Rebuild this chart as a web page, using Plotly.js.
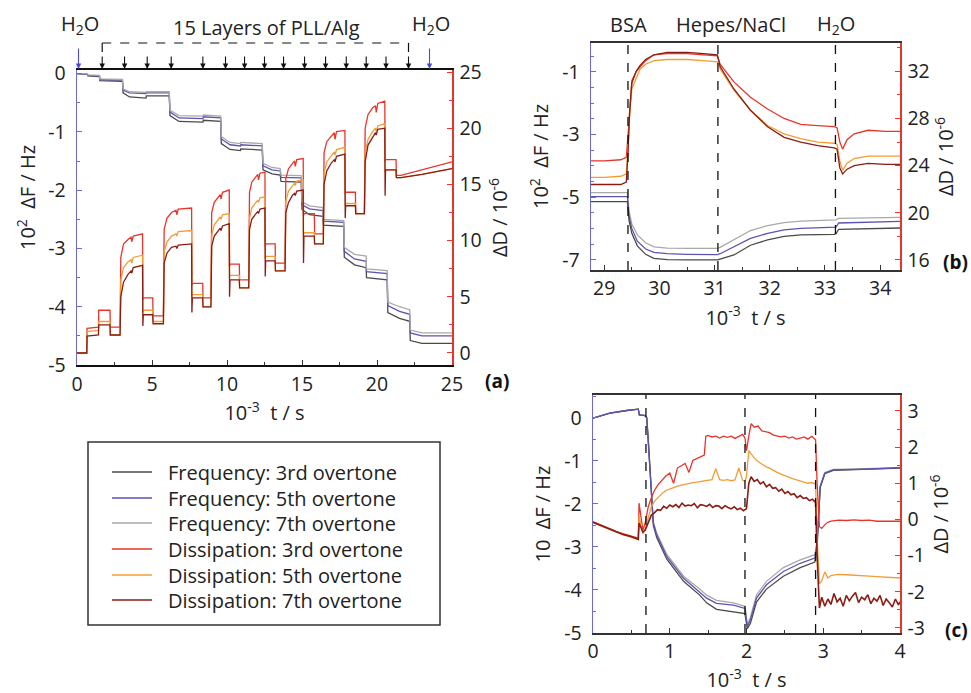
<!DOCTYPE html>
<html>
<head>
<meta charset="utf-8">
<script src="https://cdn.plot.ly/plotly-3.0.1.min.js"></script>
<style>html,body{margin:0;padding:0;background:#fff;}#chart{width:971px;height:693px;}</style>
</head>
<body>
<div id="chart"></div>
<script>
// ---------- Panel (a): 15 layers PLL/Alg ----------
const tA_F = [0, 0.7, 0.72, 1.5, 1.52, 3.03, 3.07, 3.5, 4.6, 4.62, 6.15, 6.2, 6.8, 8.4, 8.42, 9.58, 9.62, 10.2, 10.9, 10.92, 12.35, 12.4, 13.0, 13.55, 13.6, 14.95, 15.0, 15.5, 16.4, 16.42, 17.78, 17.82, 18.5, 19.28, 19.3, 20.68, 20.72, 21.5, 22.18, 22.22, 23.0, 25];
const fA3 = [0.0, -0.01, -0.04, -0.05, -0.12, -0.13, -0.33, -0.40, -0.42, -0.38, -0.38, -0.72, -0.82, -0.83, -0.80, -0.82, -1.20, -1.30, -1.32, -1.29, -1.31, -1.65, -1.72, -1.74, -1.85, -1.86, -2.33, -2.42, -2.45, -2.60, -2.62, -3.15, -3.28, -3.33, -3.50, -3.54, -4.10, -4.20, -4.25, -4.58, -4.63, -4.63];
const fA5 = [0.0, -0.01, -0.03, -0.04, -0.10, -0.11, -0.28, -0.33, -0.34, -0.33, -0.33, -0.66, -0.76, -0.77, -0.74, -0.76, -1.12, -1.22, -1.24, -1.22, -1.24, -1.58, -1.65, -1.67, -1.78, -1.79, -2.25, -2.32, -2.35, -2.53, -2.55, -3.05, -3.18, -3.22, -3.40, -3.43, -3.98, -4.08, -4.13, -4.45, -4.50, -4.50];
const fA7 = [0.0, 0.0, -0.02, -0.03, -0.09, -0.10, -0.26, -0.31, -0.32, -0.31, -0.31, -0.63, -0.72, -0.73, -0.71, -0.73, -1.08, -1.18, -1.20, -1.18, -1.20, -1.54, -1.61, -1.63, -1.74, -1.75, -2.20, -2.27, -2.30, -2.50, -2.52, -2.98, -3.10, -3.13, -3.35, -3.38, -3.92, -4.00, -4.05, -4.40, -4.45, -4.45];

const tA_D = [0, 0.65, 0.67, 1.43, 1.45, 2.2, 2.22,
  2.87, 2.92, 3.1, 3.4, 3.6, 3.65, 3.75, 4.37, 4.39, 4.42, 5.05, 5.07,
  5.76, 5.81, 6.0, 6.3, 6.6, 6.65, 6.75, 7.64, 7.66, 7.69, 8.38, 8.4,
  8.93, 8.98, 9.15, 9.4, 9.55, 9.6, 9.7, 10.15, 10.17, 10.2, 10.82, 10.84,
  11.45, 11.5, 11.65, 11.9, 12.05, 12.1, 12.2, 12.53, 12.55, 12.58, 13.21, 13.23,
  13.87, 13.92, 14.1, 14.35, 14.5, 14.55, 14.65, 15.08, 15.1, 15.13, 15.82, 15.84,
  16.42, 16.47, 16.65, 16.95, 17.15, 17.2, 17.3, 17.86, 17.88, 17.91, 18.56, 18.58,
  19.16, 19.21, 19.4, 19.7, 19.9, 19.95, 20.05, 20.52, 20.54, 20.57, 21.27, 21.29,
  21.6, 23.0, 25];
const dA3 = [0.0, 0.0, 2.2, 2.3, 3.8, 3.8, 2.3,
  2.3, 8.5, 9.7, 10.1, 10.3, 9.9, 10.4, 10.6, 4.7, 4.9, 4.9, 3.3,
  3.3, 11.0, 12.0, 12.5, 12.7, 12.3, 12.8, 12.9, 6.0, 6.2, 6.2, 4.9,
  4.9, 12.5, 13.4, 13.9, 14.1, 13.7, 14.3, 14.5, 7.7, 7.9, 7.9, 6.5,
  6.5, 14.3, 15.2, 15.7, 15.9, 15.4, 16.0, 16.1, 9.5, 9.7, 9.7, 8.0,
  8.0, 15.5, 16.4, 16.9, 17.1, 16.6, 17.2, 17.3, 12.2, 12.4, 12.4, 10.6,
  10.6, 17.8, 18.8, 19.3, 19.6, 19.0, 19.7, 19.8, 14.1, 14.3, 14.3, 12.4,
  12.4, 20.0, 21.2, 21.8, 22.0, 21.4, 22.2, 22.4, 17.0, 17.2, 17.2, 15.8,
  15.8, 16.3, 17.0];
const dA5 = [0.0, 0.0, 1.9, 2.0, 2.8, 2.8, 1.6,
  1.6, 6.5, 7.6, 8.1, 8.3, 8.0, 8.5, 8.7, 3.6, 3.8, 3.8, 2.8,
  2.8, 9.0, 9.9, 10.4, 10.6, 10.4, 10.8, 10.9, 5.0, 5.2, 5.2, 4.1,
  4.1, 10.5, 11.4, 11.9, 12.1, 11.9, 12.3, 12.4, 6.7, 6.9, 6.9, 5.8,
  5.8, 12.0, 12.9, 13.4, 13.6, 13.4, 13.8, 13.9, 8.4, 8.6, 8.6, 7.3,
  7.3, 13.5, 14.4, 14.9, 15.1, 14.9, 15.3, 15.4, 10.5, 10.7, 10.7, 9.7,
  9.7, 16.0, 17.0, 17.6, 17.9, 17.6, 18.1, 18.3, 13.1, 13.3, 13.3, 12.4,
  12.4, 17.8, 19.0, 19.7, 20.0, 19.7, 20.2, 20.4, 16.1, 16.3, 16.3, 15.6,
  15.6, 15.9, 16.4];
const dA7 = [0.0, 0.0, 1.5, 1.6, 2.5, 2.5, 1.6,
  1.6, 5.0, 6.3, 7.0, 7.3, 7.1, 7.6, 7.8, 2.4, 3.4, 3.4, 2.6,
  2.6, 8.0, 8.9, 9.4, 9.5, 9.3, 9.6, 9.7, 3.6, 4.9, 4.9, 4.1,
  4.1, 9.5, 10.4, 10.9, 11.1, 10.9, 11.3, 11.5, 5.0, 6.5, 6.5, 5.8,
  5.8, 11.0, 11.9, 12.4, 12.6, 12.4, 12.8, 12.9, 6.8, 8.2, 8.2, 7.3,
  7.3, 12.5, 13.4, 14.0, 14.2, 14.0, 14.4, 14.5, 8.0, 10.4, 10.4, 9.7,
  9.7, 15.0, 16.2, 16.9, 17.2, 17.0, 17.5, 17.7, 12.0, 13.1, 13.1, 12.4,
  12.4, 17.0, 18.5, 19.2, 19.6, 19.4, 19.9, 20.0, 14.0, 16.3, 16.3, 15.6,
  15.6, 15.9, 16.4];

const layerArrowsT = [1.68, 3.17, 4.68, 6.28, 8.39, 9.9, 11.17, 12.5, 13.77, 15.17, 16.57, 17.95, 19.28, 20.6, 22.1];
const waterArrowsT = [0.1, 23.5];
const topLabelT = [0.23, 12.65, 23.63];
const topLabels = ['H<sub>2</sub>O', '15 Layers of PLL/Alg', 'H<sub>2</sub>O'];

// ---------- Panel (b): BSA adsorption ----------
const tB_D = [28.76, 29.0, 29.3, 29.4, 29.43, 29.46, 29.5, 29.58, 29.65, 29.75, 29.9, 30.14, 30.5, 30.8, 31.05, 31.1, 31.35, 31.65, 31.96, 32.26, 32.56, 32.87, 33.17, 33.22, 33.27, 33.32, 33.4, 33.53, 33.78, 34.1, 34.36];
const dB3 = [24.4, 24.4, 24.5, 24.7, 26.5, 29.0, 31.2, 32.0, 32.4, 32.9, 33.4, 33.5, 33.5, 33.4, 33.3, 32.6, 31.1, 29.8, 28.8, 28.0, 27.5, 27.4, 27.3, 27.2, 26.0, 25.4, 26.2, 26.7, 27.0, 26.9, 26.9];
const dB5 = [23.0, 23.0, 23.1, 23.3, 25.5, 28.3, 30.5, 31.5, 32.2, 32.6, 32.9, 33.0, 33.0, 32.9, 32.8, 32.2, 30.4, 28.7, 27.4, 26.7, 26.3, 26.0, 25.9, 25.8, 24.4, 23.6, 24.2, 24.6, 24.8, 24.8, 24.8];
const dB7 = [22.4, 22.4, 22.4, 22.6, 25.0, 28.5, 31.0, 32.0, 32.5, 33.0, 33.4, 33.6, 33.6, 33.5, 33.4, 32.4, 30.5, 28.7, 27.3, 26.4, 26.0, 25.7, 25.5, 25.4, 23.8, 23.3, 23.7, 24.0, 24.2, 24.1, 24.1];
const tB_F = [28.76, 29.0, 29.3, 29.42, 29.45, 29.5, 29.6, 29.75, 29.9, 30.14, 30.5, 31.05, 31.1, 31.35, 31.65, 31.96, 32.26, 32.56, 33.17, 33.2, 33.25, 33.78, 34.36];
const fB3 = [-5.14, -5.14, -5.14, -5.14, -5.75, -6.15, -6.55, -6.82, -6.95, -6.99, -7.0, -7.0, -6.97, -6.84, -6.53, -6.36, -6.25, -6.2, -6.18, -6.16, -6.02, -6.0, -5.98];
const fB5 = [-4.98, -4.98, -4.98, -4.98, -5.6, -6.0, -6.4, -6.65, -6.76, -6.8, -6.82, -6.83, -6.8, -6.57, -6.31, -6.15, -6.04, -5.99, -5.97, -5.95, -5.82, -5.8, -5.77];
const fB7 = [-4.85, -4.85, -4.85, -4.85, -5.45, -5.85, -6.2, -6.45, -6.58, -6.62, -6.63, -6.63, -6.6, -6.35, -6.06, -5.9, -5.81, -5.76, -5.74, -5.72, -5.67, -5.65, -5.64];
const bEventsT = [29.43, 31.06, 33.19];
const bEventLabels = ['BSA', 'Hepes/NaCl', 'H<sub>2</sub>O'];
const bLabelT = [29.44, 31.29, 33.2];

// ---------- Panel (c) ----------
const tC_F = [0, 0.22, 0.44, 0.59, 0.604, 0.68, 0.70, 0.72, 0.786, 0.83, 0.96, 1.18, 1.39, 1.48, 1.61, 1.83, 1.98, 2.01, 2.05, 2.13, 2.26, 2.48, 2.70, 2.89, 2.92, 2.96, 3.02, 3.13, 3.57, 4.0];
const fC3 = [-0.01, 0.11, 0.17, 0.2, 0.07, 0.05, 0.0, -0.51, -2.5, -2.78, -3.28, -3.8, -4.12, -4.3, -4.45, -4.5, -4.55, -4.9, -4.78, -4.28, -3.98, -3.68, -3.48, -3.35, -3.0, -1.62, -1.3, -1.22, -1.2, -1.17];
const fC5 = [-0.01, 0.11, 0.17, 0.2, 0.07, 0.05, 0.0, -0.51, -2.45, -2.72, -3.22, -3.73, -4.04, -4.19, -4.31, -4.35, -4.43, -4.85, -4.70, -4.19, -3.88, -3.57, -3.38, -3.26, -2.91, -1.6, -1.29, -1.21, -1.19, -1.16];
const fC7 = [-0.01, 0.11, 0.17, 0.2, 0.07, 0.05, 0.0, -0.5, -2.42, -2.68, -3.17, -3.68, -3.98, -4.12, -4.24, -4.3, -4.38, -4.8, -4.64, -4.12, -3.8, -3.48, -3.3, -3.18, -2.85, -1.58, -1.27, -1.2, -1.18, -1.15];
const tC_D = [0, 0.1, 0.2, 0.3, 0.4, 0.5, 0.59,
  0.6, 0.62, 0.65, 0.68, 0.70,
  0.72, 0.76, 0.8, 0.85, 0.9, 0.95, 1.0, 1.05, 1.1, 1.15, 1.2, 1.25, 1.3, 1.35, 1.4, 1.45, 1.47, 1.5, 1.55, 1.6, 1.65, 1.7, 1.75, 1.8, 1.85, 1.9, 1.95, 1.98,
  2.0, 2.03, 2.06, 2.1, 2.15, 2.2, 2.25, 2.3, 2.35, 2.4, 2.45, 2.5, 2.55, 2.6, 2.65, 2.7, 2.75, 2.8, 2.85, 2.9,
  2.92, 2.95, 2.98, 3.02, 3.06, 3.1, 3.15, 3.2, 3.3, 3.4, 3.5, 3.6, 3.7, 3.8, 3.9, 4.0];
const dC3 = [-0.06, -0.15, -0.25, -0.33, -0.40, -0.46, -0.52,
  0.45, 0.1, -0.3, -0.1, 0.1,
  0.35, 0.6, 0.8, 0.97, 1.1, 1.2, 1.28, 1.0, 1.42, 1.48, 1.55, 1.3, 1.63, 1.68, 1.72, 1.78, 2.3, 2.32, 2.28, 2.3, 2.25, 2.3, 2.27, 2.3, 2.24, 2.3, 2.35, 2.25,
  1.9, 2.3, 2.65, 2.55, 2.58, 2.45, 2.42, 2.4, 2.33, 2.3, 2.28, 2.3, 2.25, 2.28, 2.22, 2.25, 2.28, 2.22, 2.3, 2.2,
  1.0, -0.2, -0.25, -0.15, -0.08, -0.05, -0.03, -0.02, -0.03, -0.01, -0.03, -0.02, -0.05, -0.05, -0.04, -0.05];
const dC5 = [-0.08, -0.17, -0.27, -0.35, -0.42, -0.49, -0.56,
  0.1, -0.1, -0.4, -0.25, -0.1,
  0.1, 0.35, 0.5, 0.62, 0.72, 0.8, 0.85, 0.88, 0.92, 0.95, 0.97, 1.0, 1.02, 1.03, 1.05, 1.06, 1.08, 1.08, 1.1, 1.4, 1.1, 1.08, 1.1, 1.07, 1.09, 1.42, 1.08, 1.05,
  1.2, 1.9, 1.8, 1.7, 1.6, 1.52, 1.46, 1.42, 1.35, 1.3, 1.25, 1.2, 1.17, 1.13, 1.1, 1.07, 1.05, 1.0, 1.02, 0.98,
  -0.5, -1.78, -1.7, -1.45, -1.62, -1.55, -1.53, -1.52, -1.53, -1.55, -1.56, -1.57, -1.58, -1.6, -1.6, -1.62];
const tC_D7 = [0, 0.1, 0.2, 0.3, 0.4, 0.5, 0.59,
  0.6, 0.62, 0.65, 0.68, 0.70,
  0.72, 0.76, 0.80, 0.84, 0.88, 0.92, 0.96, 1.00, 1.04, 1.08, 1.12, 1.16, 1.20, 1.24, 1.28, 1.32, 1.36, 1.40, 1.44, 1.48, 1.52, 1.56, 1.60, 1.64, 1.68, 1.72, 1.76, 1.80, 1.84, 1.88, 1.92, 1.96,
  2.0, 2.03, 2.06, 2.10, 2.14, 2.18, 2.22, 2.26, 2.30, 2.34, 2.38, 2.42, 2.46, 2.50, 2.54, 2.58, 2.62, 2.66, 2.70, 2.74, 2.78, 2.82, 2.86, 2.90,
  2.92, 2.95, 2.98, 3.02, 3.06, 3.10, 3.14, 3.18, 3.22, 3.26, 3.30, 3.34, 3.38, 3.42, 3.46, 3.50, 3.54, 3.58, 3.62, 3.66, 3.70, 3.74, 3.78, 3.82, 3.86, 3.90, 3.94, 3.98, 4.0];
const dC7 = [-0.08, -0.17, -0.26, -0.34, -0.42, -0.48, -0.55,
  -0.1, -0.2, -0.35, -0.3, -0.2,
  -0.05, 0.12, 0.18, 0.27, 0.25, 0.36, 0.31, 0.40, 0.35, 0.41, 0.33, 0.45, 0.37, 0.40, 0.38, 0.44, 0.32, 0.41, 0.39, 0.36, 0.42, 0.33, 0.38, 0.37, 0.30, 0.38, 0.33, 0.29, 0.35, 0.27, 0.31, 0.24,
  0.3, 1.0, 1.18, 1.05, 1.1, 0.98, 1.04, 0.9, 0.97, 0.86, 0.88, 0.78, 0.84, 0.72, 0.77, 0.68, 0.71, 0.6, 0.66, 0.58, 0.6, 0.52, 0.56, 0.47,
  -1.0, -2.45, -2.15, -2.4, -2.2, -2.35, -2.05, -2.28, -2.18, -2.4, -2.1, -2.25, -2.12, -2.02, -2.3, -2.15, -2.22, -2.08, -2.33, -2.18, -2.26, -2.1, -2.38, -2.2, -2.3, -2.42, -2.2, -2.36, -2.28];
const cEventsT = [0.69, 1.98, 2.9];

const seriesNames = ['Frequency: 3rd overtone', 'Frequency: 5th overtone', 'Frequency: 7th overtone',
  'Dissipation: 3rd overtone', 'Dissipation: 5th overtone', 'Dissipation: 7th overtone'];

// ---------- styling ----------
const C = {f3: '#4a4a4a', f5: '#5b55b0', f7: '#a9a9a9', d3: '#e8352a', d5: '#f39c34', d7: '#8b1c14'};
const seriesColors = [C.f3, C.f5, C.f7, C.d3, C.d5, C.d7];
const BLUE = '#6b6bd0', RED = '#e8352a';
const FONT = 'Open Sans, Arial, sans-serif';
const W = 971, H = 693;
const px = v => v / W;
const py = v => 1 - v / H;

function tr(x, y, color, xa, ya, name, width) {
  return {x: x, y: y, type: 'scatter', mode: 'lines', name: name, showlegend: false,
    xaxis: xa, yaxis: ya, line: {color: color, width: width || 1.3}, hoverinfo: 'skip'};
}
const data = [
  tr(tA_F, fA3, C.f3, 'x', 'y', seriesNames[0]),
  tr(tA_F, fA5, C.f5, 'x', 'y', seriesNames[1]),
  tr(tA_F, fA7, C.f7, 'x', 'y', seriesNames[2]),
  tr(tA_D, dA3, C.d3, 'x', 'y2', seriesNames[3]),
  tr(tA_D, dA5, C.d5, 'x', 'y2', seriesNames[4]),
  tr(tA_D, dA7, C.d7, 'x', 'y2', seriesNames[5]),
  tr(tB_F, fB7, C.f7, 'x2', 'y3', seriesNames[2]),
  tr(tB_F, fB5, C.f5, 'x2', 'y3', seriesNames[1]),
  tr(tB_F, fB3, C.f3, 'x2', 'y3', seriesNames[0]),
  tr(tB_D, dB3, C.d3, 'x2', 'y4', seriesNames[3]),
  tr(tB_D, dB5, C.d5, 'x2', 'y4', seriesNames[4]),
  tr(tB_D, dB7, C.d7, 'x2', 'y4', seriesNames[5]),
  tr(tC_F, fC7, C.f7, 'x3', 'y5', seriesNames[2]),
  tr(tC_F, fC3, C.f3, 'x3', 'y5', seriesNames[0]),
  tr(tC_F, fC5, C.f5, 'x3', 'y5', seriesNames[1]),
  tr(tC_D, dC3, C.d3, 'x3', 'y6', seriesNames[3]),
  tr(tC_D, dC5, C.d5, 'x3', 'y6', seriesNames[4]),
  tr(tC_D7, dC7, C.d7, 'x3', 'y6', seriesNames[5], 1.6)
];

const tickFont = {family: FONT, size: 19.5, color: '#222'};
const titleFont = {family: FONT, size: 20, color: '#222'};
function xAxis(domain, range, anchor, dtick, minor, standoff) {
  return {domain: domain, range: range, anchor: anchor, tickmode: 'linear', dtick: dtick,
    ticks: 'inside', ticklen: 5, tickcolor: '#333', tickwidth: 1,
    minor: {tickmode: 'linear', dtick: minor, ticks: 'inside', ticklen: 3, tickcolor: '#333'},
    showline: true, mirror: true, linecolor: '#333', linewidth: 1.8, showgrid: false, zeroline: false,
    tickfont: tickFont, ticklabelstandoff: 0,
    title: {text: '10<sup>-3</sup>  t / s', font: titleFont, standoff: standoff}};
}
function yAxis(domain, range, anchor, vals, minor, color, side, overlay, title, standoff) {
  const a = {domain: domain, range: range, anchor: anchor, side: side,
    tickmode: 'array', tickvals: vals, ticktext: vals.map(v => String(v)),
    ticks: 'inside', ticklen: 5, tickcolor: color, tickwidth: 1,
    minor: {tickmode: 'linear', tick0: 0, dtick: minor, ticks: 'inside', ticklen: 3, tickcolor: color},
    showline: true, linecolor: color, linewidth: 1.5, showgrid: false, zeroline: false,
    tickfont: tickFont, ticklabelstandoff: side === 'right' ? 2 : 6,
    title: {text: title, font: titleFont, standoff: standoff}};
  if (overlay) a.overlaying = overlay;
  return a;
}

const domA = [py(365), py(70)], domB = [py(270), py(43)], domC = [py(633), py(395)];
const layout = {
  width: W, height: H, margin: {l: 0, r: 0, t: 0, b: 0, pad: 0},
  paper_bgcolor: '#fff', plot_bgcolor: 'rgba(0,0,0,0)',
  font: {family: FONT, color: '#222'},
  showlegend: false,
  xaxis: xAxis([px(77), px(452)], [0, 25], 'y', 5, 2.5, 8),
  yaxis: yAxis(domA, [-5, 0.063], 'x', [-5, -4, -3, -2, -1, 0], 0.5, BLUE, 'left', null, '', 8),
  yaxis2: yAxis(domA, [-1.07, 25.18], 'x', [0, 5, 10, 15, 20, 25], 2.5, RED, 'right', 'y', 'ΔD / 10<sup>-6</sup>', 12),
  xaxis2: xAxis([px(591), px(900)], [28.76, 34.36], 'y3', 1, 0.5, 8),
  yaxis3: yAxis(domB, [-7.32, -0.075], 'x2', [-7, -5, -3, -1], 0.5, BLUE, 'left', null, '10<sup>2</sup>  ΔF / Hz', 8),
  yaxis4: yAxis(domB, [15.15, 34.4], 'x2', [16, 20, 24, 28, 32], 2, RED, 'right', 'y3', 'ΔD / 10<sup>-6</sup>', 10),
  xaxis3: xAxis([px(593), px(900)], [0, 4], 'y5', 1, 0.5, 8),
  yaxis5: yAxis(domC, [-5, 0.53], 'x3', [-5, -4, -3, -2, -1, 0], 0.5, BLUE, 'left', null, '10  ΔF / Hz', 8),
  yaxis6: yAxis(domC, [-3.14, 3.44], 'x3', [-3, -2, -1, 0, 1, 2, 3], 0.5, RED, 'right', 'y5', 'ΔD / 10<sup>-6</sup>', 10),
  shapes: [], annotations: []
};
layout.xaxis.linewidth = 2.2;
layout.xaxis.linecolor = '#111';

// left y title of panel (a), placed like in the original (above the axis centre)
layout.annotations.push({xref: 'paper', yref: 'paper', x: px(26), y: py(198), text: '10<sup>2</sup>  ΔF / Hz', textangle: -90,
  showarrow: false, font: titleFont, xanchor: 'center', yanchor: 'middle'});

// top bracket of panel (a)
const bt0 = layerArrowsT[0], bt1 = layerArrowsT[layerArrowsT.length - 1];
const dashLine = {color: '#111', width: 1.2, dash: 'dash'};
layout.shapes.push({type: 'line', xref: 'x', yref: 'paper', x0: bt0, x1: bt1, y0: py(43), y1: py(43), line: dashLine});
layout.shapes.push({type: 'line', xref: 'x', yref: 'paper', x0: bt0, x1: bt0, y0: py(43), y1: py(56), line: dashLine});
layout.shapes.push({type: 'line', xref: 'x', yref: 'paper', x0: bt1, x1: bt1, y0: py(43), y1: py(56), line: dashLine});
// arrows
layerArrowsT.forEach(t => layout.annotations.push({xref: 'x', yref: 'paper', x: t, y: py(69), ax: 0, ay: -14,
  text: '', showarrow: true, arrowhead: 2, arrowsize: 1, arrowwidth: 1.1, arrowcolor: '#111'}));
waterArrowsT.forEach(t => layout.annotations.push({xref: 'x', yref: 'paper', x: t, y: py(69), ax: 0, ay: -22,
  text: '', showarrow: true, arrowhead: 2, arrowsize: 1, arrowwidth: 1.1, arrowcolor: '#4a4ad0'}));
const labFont = {family: FONT, size: 20, color: '#222'};
topLabels.forEach((s, i) => layout.annotations.push({xref: 'x', yref: 'paper', x: topLabelT[i], y: py(i === 1 ? 27 : 25), text: s,
  showarrow: false, font: labFont, xanchor: 'center', yanchor: 'middle'}));

// panel (b) dashed events and labels
bEventsT.forEach(t => layout.shapes.push({type: 'line', xref: 'x2', yref: 'y3 domain', x0: t, x1: t, y0: 0, y1: 1,
  line: {color: '#111', width: 1.3, dash: 'dash'}}));
bEventLabels.forEach((s, i) => layout.annotations.push({xref: 'x2', yref: 'paper', x: bLabelT[i], y: py(25), text: s,
  showarrow: false, font: labFont, xanchor: 'center', yanchor: 'middle'}));
// panel (c) dashed events
cEventsT.forEach(t => layout.shapes.push({type: 'line', xref: 'x3', yref: 'y5 domain', x0: t, x1: t, y0: 0, y1: 1,
  line: {color: '#111', width: 1.3, dash: 'dash'}}));

// panel tags
const tagFont = {family: FONT, size: 19, color: '#111'};
layout.annotations.push({xref: 'paper', yref: 'paper', x: px(497), y: py(381), text: '<b>(a)</b>', showarrow: false, font: tagFont, xanchor: 'center', yanchor: 'middle'});
layout.annotations.push({xref: 'paper', yref: 'paper', x: px(955), y: py(262), text: '<b>(b)</b>', showarrow: false, font: tagFont, xanchor: 'center', yanchor: 'middle'});
layout.annotations.push({xref: 'paper', yref: 'paper', x: px(956), y: py(630), text: '<b>(c)</b>', showarrow: false, font: tagFont, xanchor: 'center', yanchor: 'middle'});

// legend: frame, line samples and labels
layout.shapes.push({type: 'rect', xref: 'paper', yref: 'paper', x0: px(88), x1: px(440), y0: py(625), y1: py(442),
  line: {color: '#333', width: 1.5}});
const legendRowsY = [472, 498, 523, 549, 575, 600];
seriesNames.forEach((s, i) => {
  layout.shapes.push({type: 'line', xref: 'paper', yref: 'paper', x0: px(112), x1: px(152), y0: py(legendRowsY[i]), y1: py(legendRowsY[i]),
    line: {color: seriesColors[i], width: 1.3}});
  layout.annotations.push({xref: 'paper', yref: 'paper', x: px(166), y: py(legendRowsY[i]), text: s, showarrow: false,
    xanchor: 'left', yanchor: 'middle', font: {family: FONT, size: 20, color: '#222'}});
});

Plotly.newPlot('chart', data, layout, {staticPlot: true, displayModeBar: false});
</script>
</body>
</html>
